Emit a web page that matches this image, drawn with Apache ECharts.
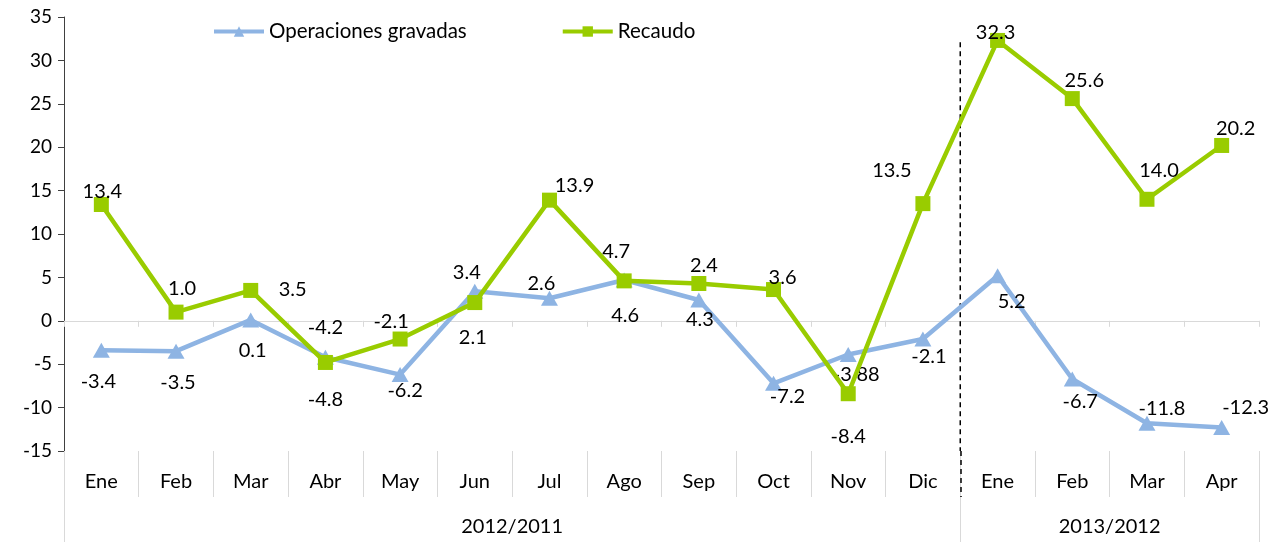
<!DOCTYPE html>
<html>
<head>
<meta charset="utf-8">
<script src="https://cdn.jsdelivr.net/npm/echarts@6/dist/echarts.min.js"></script>
<style>
  html, body { margin: 0; padding: 0; background: #fff; }
  #chart { width: 1284px; height: 542px; }
</style>
</head>
<body>
<div id="chart"></div>
<script>
// data
var months = ['Ene', 'Feb', 'Mar', 'Abr', 'May', 'Jun', 'Jul', 'Ago', 'Sep', 'Oct', 'Nov', 'Dic', 'Ene', 'Feb', 'Mar', 'Apr'];
var groups = ['2012/2011', '2013/2012'];
var groupCenters = [6, 14];
var groupEdges = [0, 12, 16];
var dividerAt = 12;
var dividerRange = [32.1, -15];
var operaciones = [-3.4, -3.5, 0.1, -4.2, -6.2, 3.4, 2.6, 4.7, 2.4, -7.2, -3.88, -2.1, 5.2, -6.7, -11.8, -12.3];
var recaudo = [13.4, 1.0, 3.5, -4.8, -2.1, 2.1, 13.9, 4.6, 4.3, 3.6, -8.4, 13.5, 32.3, 25.6, 14.0, 20.2];
var yMin = -15, yMax = 35, yStep = 5;

// label placement (px offsets from each point)
var opOffsets = [[-3, 31], [2, 31], [2, 31], [0, -30], [5, 16], [-8, -19], [-8, -15], [-8, -28],
                 [5, -34], [14, 13], [8, 20], [6, 18], [14, 26], [8, 23], [15, -15], [24, -20]];
var reOffsets = [[1, -13], [6, -24], [42, -1], [0, 37], [-9, -17], [-2, 35], [25, -15], [1, 35],
                 [1, 36], [9, -12], [0, 43], [-31, -33], [-2, -8], [12, -18], [12, -29], [14, -17]];

var FONT = 'Lato';
var BLUE = '#8EB4E3';
var GREEN = '#99CC00';
var GRID_GREY = '#D9D9D9';

function fmt(v) {
  return Math.round(v * 10) === v * 10 ? v.toFixed(1) : String(v);
}

function withLabels(values, offsets) {
  return values.map(function (v, i) {
    return { value: v, label: { offset: offsets[i] } };
  });
}

var chart = echarts.init(document.getElementById('chart'));

var option = {
  backgroundColor: '#fff',
  textStyle: { fontFamily: FONT },
  legend: {
    data: ['Operaciones gravadas', 'Recaudo'],
    left: 207,
    top: 16,
    itemWidth: 50,
    itemHeight: 13,
    itemGap: 94,
    lineStyle: { width: 4 },
    textStyle: { fontFamily: FONT, fontSize: 20.5, color: '#000' }
  },
  grid: { left: 64, right: 25, top: 17, bottom: 91, containLabel: false },
  xAxis: [
    {
      // zero line with its little ticks
      type: 'category',
      data: months,
      position: 'bottom',
      axisLine: { onZero: true, lineStyle: { color: GRID_GREY, width: 1 } },
      axisTick: { show: true, interval: 0, length: 6, lineStyle: { color: GRID_GREY } },
      axisLabel: { show: false },
      splitLine: { show: false }
    },
    {
      // month labels under the plot
      type: 'category',
      data: months,
      position: 'bottom',
      axisLine: { show: false, onZero: false },
      axisTick: { show: true, interval: 0, length: 46, lineStyle: { color: GRID_GREY } },
      axisLabel: { interval: 0, fontSize: 20, color: '#000', margin: 21, fontFamily: FONT },
      splitLine: { show: false }
    },
    {
      // group labels (years)
      type: 'value',
      min: 0,
      max: months.length,
      position: 'bottom',
      axisLine: { show: false, onZero: false },
      axisTick: { show: true, customValues: groupEdges, length: 91, lineStyle: { color: GRID_GREY } },
      axisLabel: {
        customValues: groupCenters,
        fontSize: 20, color: '#000', margin: 66, fontFamily: FONT,
        formatter: function (v) { return groups[groupCenters.indexOf(v)]; }
      },
      splitLine: { show: false }
    },
    {
      // dashed divider continued below the plot
      type: 'value',
      min: 0,
      max: months.length,
      position: 'bottom',
      axisLine: { show: false, onZero: false },
      axisTick: { show: true, customValues: [dividerAt], length: 46, lineStyle: { color: '#000', type: [5, 4], width: 1.5 } },
      axisLabel: { show: false },
      splitLine: { show: false }
    }
  ],
  yAxis: {
    type: 'value',
    min: yMin,
    max: yMax,
    interval: yStep,
    axisLine: { show: true, lineStyle: { color: '#404040', width: 1 } },
    axisTick: { show: true, length: 6, lineStyle: { color: '#404040' } },
    axisLabel: { fontSize: 19, color: '#000', margin: 12, fontFamily: FONT },
    splitLine: { show: false }
  },
  series: [
    {
      name: 'divider',
      type: 'line',
      xAxisIndex: 2,
      data: [[dividerAt, dividerRange[0]], [dividerAt, dividerRange[1]]],
      symbol: 'none',
      silent: true,
      lineStyle: { color: '#000', width: 1.5, type: [5, 4] },
      z: 1
    },
    {
      name: 'Operaciones gravadas',
      type: 'line',
      xAxisIndex: 0,
      data: withLabels(operaciones, opOffsets),
      symbol: 'triangle',
      symbolSize: [17, 15],
      color: BLUE,
      lineStyle: { color: BLUE, width: 4.5 },
      itemStyle: { color: BLUE },
      label: {
        show: true, position: 'inside', fontSize: 20, color: '#000', fontFamily: FONT,
        formatter: function (p) { return fmt(p.value); }
      },
      z: 3
    },
    {
      name: 'Recaudo',
      type: 'line',
      xAxisIndex: 0,
      data: withLabels(recaudo, reOffsets),
      symbol: 'rect',
      symbolSize: 15,
      color: GREEN,
      lineStyle: { color: GREEN, width: 4.5 },
      itemStyle: { color: GREEN },
      label: {
        show: true, position: 'inside', fontSize: 20, color: '#000', fontFamily: FONT,
        formatter: function (p) { return fmt(p.value); }
      },
      z: 4
    }
  ],
  animation: false
};

chart.setOption(option);
</script>
</body>
</html>
